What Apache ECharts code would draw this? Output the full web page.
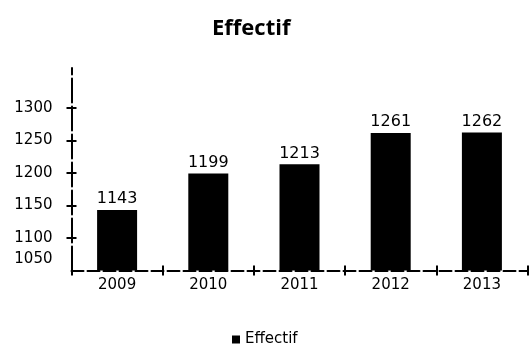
<!DOCTYPE html>
<html>
<head>
<meta charset="utf-8">
<script src="https://cdn.jsdelivr.net/npm/echarts@6/dist/echarts.min.js"></script>
<style>
  html, body { margin: 0; padding: 0; background: #fff; }
  #chart { width: 532px; height: 349px; }
</style>
</head>
<body>
<div id="chart"></div>
<script>
// Headcount per year
const years = ['2009', '2010', '2011', '2012', '2013'];
const effectif = [1143, 1199, 1213, 1261, 1262];
const yTicks = [1050, 1100, 1150, 1200, 1250, 1300];

const tickStyle = { color: '#000', width: 2 };

const chart = echarts.init(document.getElementById('chart'));
chart.setOption({
  backgroundColor: '#ffffff',
  animation: false,
  title: {
    text: 'Effectif',
    left: 207,
    top: 13,
    textStyle: { fontFamily: 'Open Sans', fontWeight: 'bold', fontSize: 22, color: '#000' }
  },
  legend: {
    data: ['Effectif'],
    bottom: -3,
    left: 227,
    icon: 'rect',
    itemWidth: 8,
    itemHeight: 8,
    itemGap: 4,
    textStyle: { fontFamily: 'DejaVu Sans', fontSize: 15, color: '#000' }
  },
  grid: { left: 71.5, right: 4.5, top: 68, bottom: 78.5 },
  xAxis: [{
    type: 'category',
    data: years,
    axisLine: { show: true, lineStyle: { color: '#000', width: 2, type: [12, 4] } },
    axisTick: { show: true, length: 5, lineStyle: tickStyle },
    axisLabel: { color: '#000', fontFamily: 'DejaVu Sans', fontSize: 15, margin: 7 }
  }, {
    // inner half of the cross-shaped ticks
    type: 'category',
    data: years,
    position: 'bottom',
    axisLine: { show: false },
    axisTick: { show: true, inside: true, length: 5, lineStyle: tickStyle },
    axisLabel: { show: false }
  }],
  yAxis: [{
    type: 'value',
    min: 1050,
    max: 1361,
    splitLine: { show: false },
    axisLine: { show: true, lineStyle: { color: '#000', width: 2, type: [24, 4] } },
    axisTick: { show: true, length: 5, customValues: yTicks.slice(1), lineStyle: tickStyle },
    axisLabel: {
      color: '#000', fontFamily: 'DejaVu Sans', fontSize: 15, margin: 19,
      customValues: yTicks,
      formatter: v => v === 1050 ? '{low|' + v + '}' : String(v),
      rich: { low: { fontFamily: 'DejaVu Sans', fontSize: 15, color: '#000', padding: [0, 0, 22, 0] } }
    }
  }, {
    type: 'value',
    min: 1050,
    max: 1361,
    position: 'left',
    splitLine: { show: false },
    axisLine: { show: false },
    axisTick: { show: true, inside: true, length: 5, customValues: yTicks.slice(1), lineStyle: tickStyle },
    axisLabel: { show: false }
  }],
  series: [{
    name: 'Effectif',
    type: 'bar',
    data: effectif,
    barWidth: 40,
    itemStyle: { color: '#000' },
    label: {
      show: true,
      position: 'top',
      distance: 3,
      color: '#000',
      fontFamily: 'DejaVu Sans',
      fontSize: 16
    }
  }]
});
</script>
</body>
</html>
